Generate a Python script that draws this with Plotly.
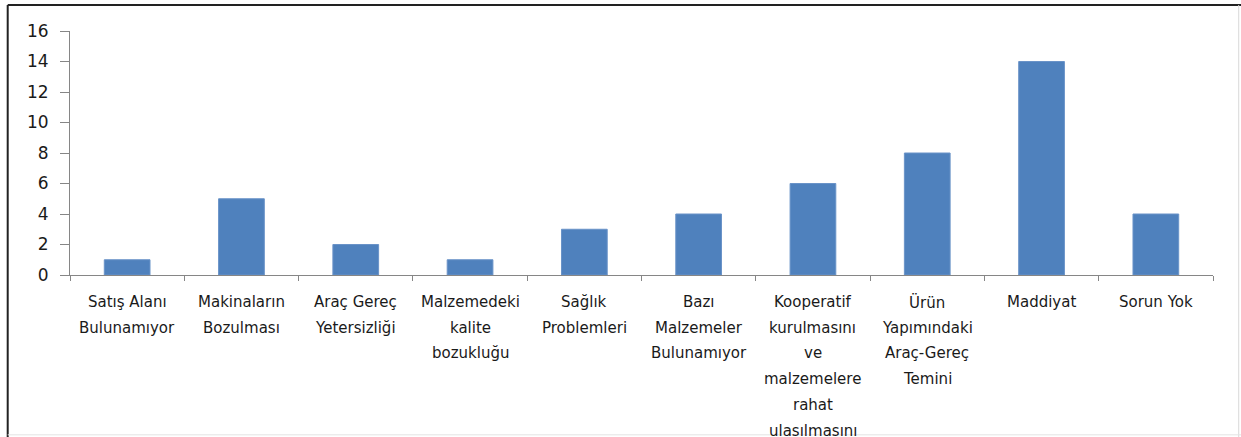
import plotly.graph_objects as go

# categories (line breaks as in the chart) and counts
categories = [
    "Satış Alanı<br>Bulunamıyor",
    "Makinaların<br>Bozulması",
    "Araç Gereç<br>Yetersizliği",
    "Malzemedeki<br>kalite<br>bozukluğu",
    "Sağlık<br>Problemleri",
    "Bazı<br>Malzemeler<br>Bulunamıyor",
    "Kooperatif<br>kurulmasını<br>ve<br>malzemelere<br>rahat<br>ulasılmasını",
    "Ürün<br>Yapımındaki<br>Araç-Gereç<br>Temini",
    "Maddiyat",
    "Sorun Yok",
]
values = [1, 5, 2, 1, 3, 4, 6, 8, 14, 4]
y_ticks = [0, 2, 4, 6, 8, 10, 12, 14, 16]

keys = [c.replace("<br>", " ") for c in categories]

fig = go.Figure()
fig.add_trace(go.Bar(
    x=keys,
    y=values,
    marker=dict(color="#4F81BD", line=dict(color="#6A93C8", width=1)),
    width=0.4,
))

# category labels, one annotation per line so the line spacing matches
for key, label in zip(keys, categories):
    for i, line in enumerate(label.split("<br>")):
        fig.add_annotation(
            x=key, xref="x", y=0, yref="paper",
            text=line, showarrow=False,
            yanchor="middle", yshift=-27 - i * 25.7,
            font=dict(family="DejaVu Sans", size=15, color="#1a1a1a"),
        )

# outer frame of the chart
frame = [
    dict(x0=-0.0545, x1=1.03, y0=1.1066, y1=1.1066, color="#222222", width=2),
    dict(x0=-0.0545, x1=-0.0545, y0=-0.7, y1=1.1066, color="#222222", width=2),
    dict(x0=1.0225, x1=1.0225, y0=-0.7, y1=1.1066, color="#D9D9D9", width=1),
    dict(x0=-0.0545, x1=1.03, y0=-0.655, y1=-0.655, color="#E3E3E3", width=1),
]
for f in frame:
    fig.add_shape(type="line", xref="paper", yref="paper",
                  x0=f["x0"], x1=f["x1"], y0=f["y0"], y1=f["y1"],
                  line=dict(color=f["color"], width=f["width"]))

fig.update_layout(
    width=1241, height=437,
    margin=dict(l=70, r=28, t=31, b=162),
    paper_bgcolor="white", plot_bgcolor="white",
    showlegend=False,
    xaxis=dict(
        type="category", showticklabels=False,
        showline=True, linecolor="#868686", linewidth=1,
        ticks="outside", tickson="boundaries", ticklen=5, tickcolor="#868686",
        showgrid=False, zeroline=False,
    ),
    yaxis=dict(
        range=[0, 16], tickvals=y_ticks,
        showline=True, linecolor="#868686", linewidth=1,
        ticks="outside", ticklen=9, tickcolor="#868686",
        showgrid=False, zeroline=False,
        tickfont=dict(family="DejaVu Sans", size=17, color="#1a1a1a"),
        ticklabelstandoff=8,
    ),
)

fig.write_html(
    "out.html",
    config={"displayModeBar": False},
    post_script="document.body.style.margin='0';document.body.style.overflow='hidden';",
)
